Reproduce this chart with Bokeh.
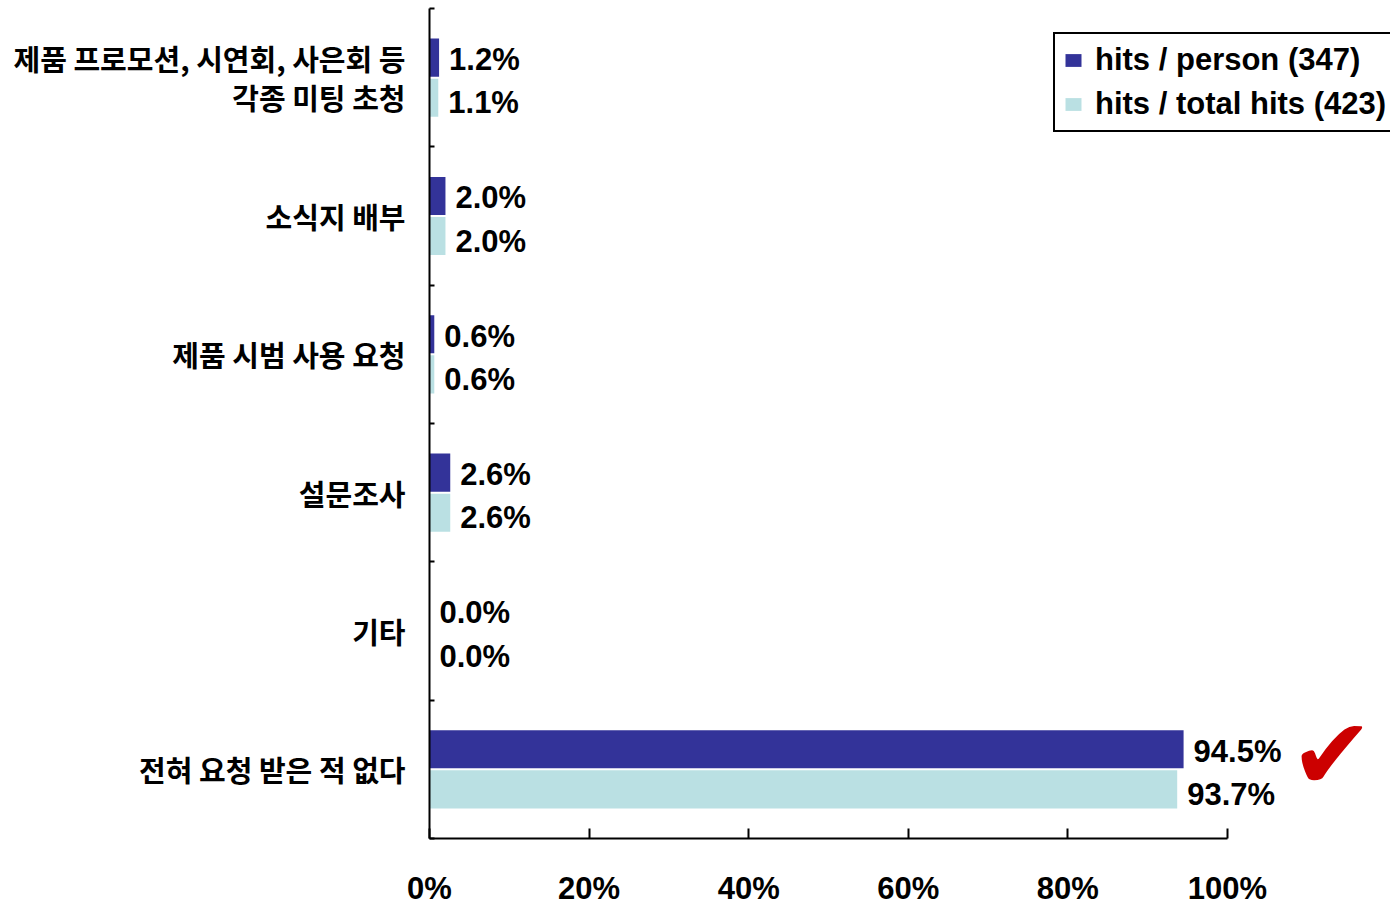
from bokeh.plotting import figure
from bokeh.models import (ColumnDataSource, Range1d, FixedTicker, PrintfTickFormatter,
                          Legend, LegendItem)
from bokeh.transform import dodge
from bokeh.core.properties import value
from bokeh.embed import file_html
from bokeh.resources import INLINE

# ---- data ----
categories = [
    "제품 프로모션, 시연회, 사은회 등\n각종 미팅 초청",
    "소식지 배부",
    "제품 시범 사용 요청",
    "설문조사",
    "기타",
    "전혀 요청 받은 적 없다",
]
hits_per_person = [1.2, 2.0, 0.6, 2.6, 0.0, 94.5]
hits_per_total = [1.1, 2.0, 0.6, 2.6, 0.0, 93.7]
series_names = ["hits / person (347)", "hits / total hits (423)"]
x_ticks = [0, 20, 40, 60, 80, 100]

DARK = "#333399"
LIGHT = "#BAE0E3"

n = len(categories)
ypos = list(range(1, n + 1))
src = ColumnDataSource(dict(
    y=ypos,
    cat=categories,
    a=hits_per_person,
    b=hits_per_total,
    la=[f"{v:.1f}%" for v in hits_per_person],
    lb=[f"{v:.1f}%" for v in hits_per_total],
))

p = figure(width=1390, height=910, output_backend="svg", toolbar_location=None,
           x_range=Range1d(0, 120.43), y_range=Range1d(n + 0.5, 0.5),
           min_border_left=429, min_border_right=0, min_border_top=8,
           min_border_bottom=72)
p.outline_line_color = None
p.grid.visible = False
p.background_fill_color = "white"
p.border_fill_color = "white"

off = 0.145
h = 0.275
r1 = p.hbar(y=dodge("y", -off, range=p.y_range), left=0, right="a", height=h,
            color=DARK, line_color=None, source=src)
r2 = p.hbar(y=dodge("y", off, range=p.y_range), left=0, right="b", height=h,
            color=LIGHT, line_color=None, source=src)

lab_kw = dict(text_font=value("Liberation Sans"), text_font_style="bold",
              text_font_size="31px", text_color="black", text_baseline="middle",
              text_align="left", x_offset=10, source=src)
p.text(x="a", y=dodge("y", -off, range=p.y_range), text="la", y_offset=2, **lab_kw)
p.text(x="b", y=dodge("y", off, range=p.y_range), text="lb", y_offset=5, **lab_kw)

# check mark next to the largest answer
p.text(x=[hits_per_person[-1]], y=[ypos[-1]], text=["✔"], text_color="#CC0000",
       text_font=value("DejaVu Sans"), text_font_size="100px", text_align="center",
       text_baseline="middle", x_offset=148, y_offset=-15)

# x axis
xa = p.xaxis[0]
xa.ticker = FixedTicker(ticks=x_ticks, minor_ticks=[])
xa.formatter = PrintfTickFormatter(format="%d%%")
xa.bounds = (0, 100)
xa.axis_line_width = 2
xa.axis_line_color = "black"
xa.major_tick_line_width = 2
xa.major_tick_in = 10
xa.major_tick_out = 0
xa.minor_tick_line_color = None
xa.major_label_standoff = 32
xa.major_label_text_font = "Liberation Sans"
xa.major_label_text_font_style = "bold"
xa.major_label_text_font_size = "31px"
xa.major_label_text_color = "black"

# y axis
ya = p.yaxis[0]
ya.ticker = FixedTicker(ticks=ypos, minor_ticks=[v - 0.5 for v in ypos] + [n + 0.5])
ya.major_label_overrides = {y: c for y, c in zip(ypos, categories)}
ya.axis_line_width = 2
ya.axis_line_color = "black"
ya.major_tick_line_color = None
ya.major_tick_in = 0
ya.major_tick_out = 0
ya.minor_tick_line_width = 2
ya.minor_tick_line_color = "black"
ya.minor_tick_in = 5
ya.minor_tick_out = 0
ya.major_label_standoff = 24
ya.major_label_text_font = "Noto Sans CJK KR"
ya.major_label_text_font_style = "bold"
ya.major_label_text_font_size = "29px"
ya.major_label_text_color = "black"
ya.major_label_text_line_height = 0.92

legend = Legend(items=[LegendItem(label=series_names[0], renderers=[r1]),
                       LegendItem(label=series_names[1], renderers=[r2])],
                location=(624, 706), margin=0)
legend.label_text_font = "Liberation Sans"
legend.label_text_font_style = "bold"
legend.label_text_font_size = "31px"
legend.label_text_color = "black"
legend.glyph_width = 20
legend.glyph_height = 16
legend.label_standoff = 12
legend.padding = 8
legend.spacing = 8
legend.border_line_color = "black"
legend.border_line_alpha = 1
legend.border_line_width = 2
legend.background_fill_color = "white"
legend.background_fill_alpha = 1
p.add_layout(legend, "center")

open("out.html", "w").write(file_html(p, INLINE))
